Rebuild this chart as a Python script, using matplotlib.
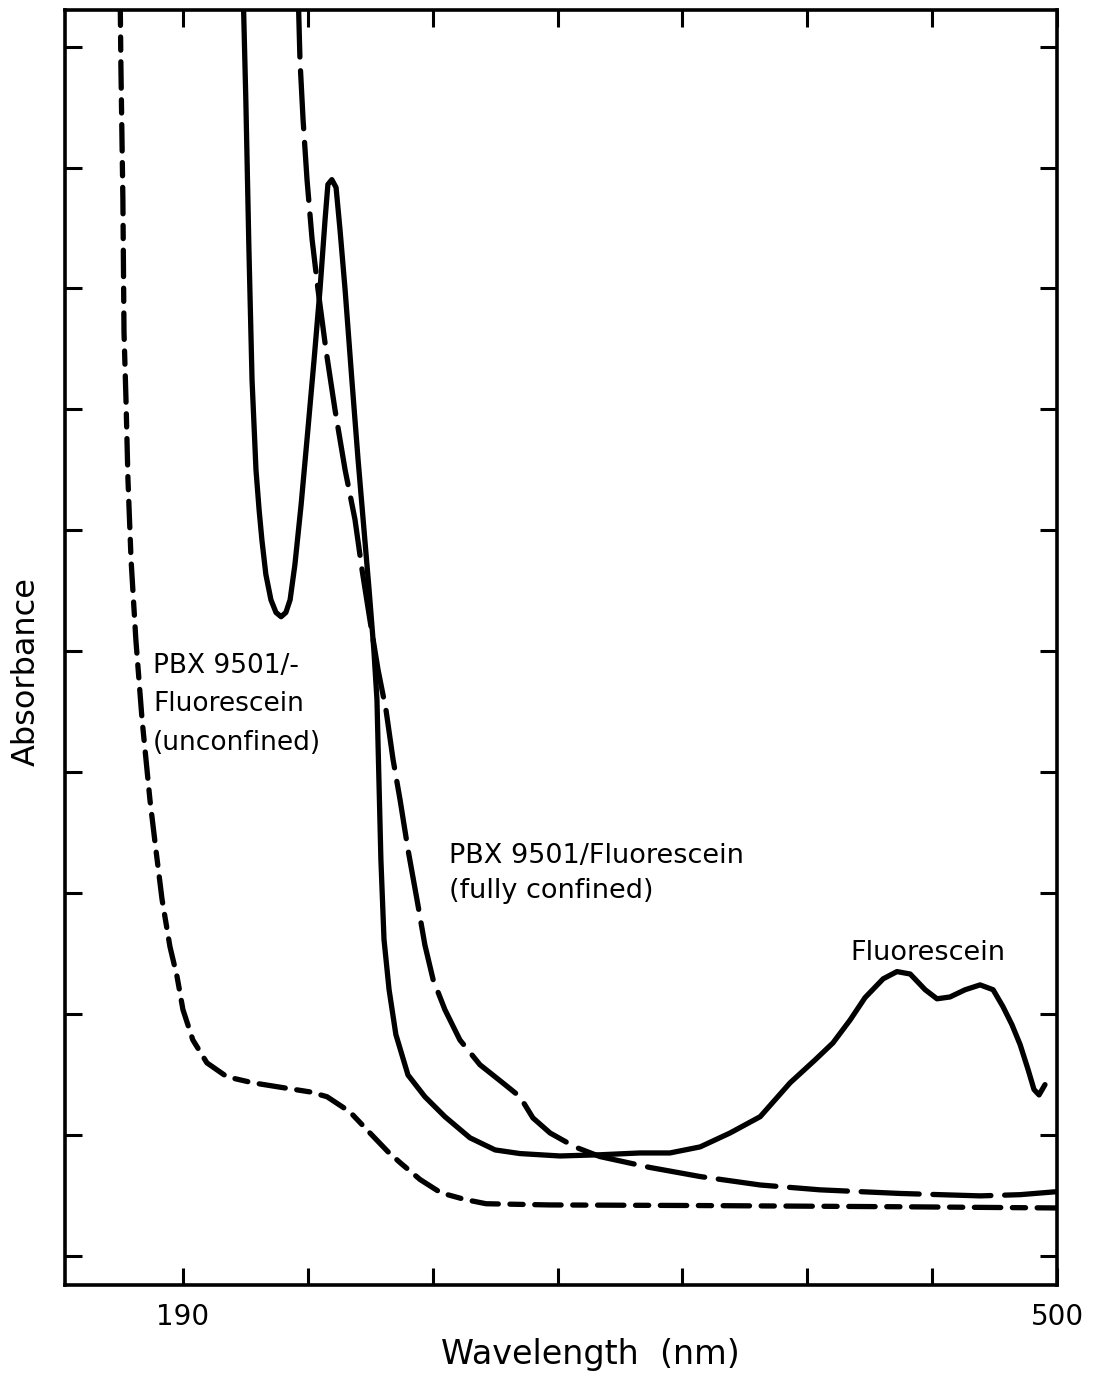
import numpy as np
import matplotlib
matplotlib.use("Agg")
import matplotlib.pyplot as plt

# PBX 9501/Fluorescein (unconfined) - short dashes
unconf_nm = [167.7, 168.0, 168.7, 169.1, 169.8, 170.5, 171.6, 173.3, 175.5, 178.3,
             180.4, 182.6, 185.4, 187.9, 190.0, 193.5, 198.5, 205.6, 214.8, 225.5,
             235.0, 241.1, 249.2, 255.3, 262.7, 267.0, 274.1, 281.5, 290.0, 297.5,
             320.2, 373.4, 444.3, 500.0]
unconf_abs = [2.10, 1.967, 1.747, 1.527, 1.416, 1.284, 1.151, 1.019, 0.887, 0.754,
              0.672, 0.589, 0.511, 0.462, 0.407, 0.357, 0.319, 0.296, 0.286, 0.278,
              0.271, 0.263, 0.238, 0.208, 0.172, 0.154, 0.126, 0.104, 0.093, 0.086,
              0.084, 0.083, 0.081, 0.079]

# PBX 9501/Fluorescein (fully confined) - long dashes
conf_nm = [230.8, 231.5, 232.6, 234.0, 235.8, 237.9, 240.7, 243.9, 247.5, 251.0,
           253.5, 256.3, 259.2, 262.0, 264.5, 267.0, 269.8, 273.0, 275.8, 278.7,
           282.9, 288.2, 295.3, 304.2, 309.5, 314.1, 320.2, 329.0, 337.9, 355.6,
           373.4, 394.7, 415.9, 444.3, 472.7, 486.9, 500.0]
conf_abs = [2.10, 1.978, 1.879, 1.780, 1.681, 1.598, 1.499, 1.400, 1.300, 1.218,
            1.135, 1.052, 0.969, 0.903, 0.821, 0.754, 0.672, 0.589, 0.514, 0.457,
            0.407, 0.357, 0.316, 0.283, 0.263, 0.228, 0.203, 0.180, 0.164, 0.146,
            0.131, 0.117, 0.109, 0.103, 0.099, 0.101, 0.106]

# Fluorescein - solid
fl_nm = [211.3, 212.3, 213.4, 214.5, 215.9, 217.0, 218.0, 219.4, 221.2, 223.0,
         224.8, 226.5, 228.0, 229.7, 231.9, 234.3, 236.5, 238.6, 240.4, 241.4,
         242.8, 244.3, 245.7, 247.5, 249.9, 252.1, 254.2, 256.0, 257.7, 258.8,
         259.5, 260.2, 261.3, 263.1, 265.5, 269.8, 275.8, 282.9, 291.8, 300.7,
         309.5, 323.7, 337.9, 352.1, 362.7, 373.4, 384.0, 394.7, 405.3, 414.2,
         420.5, 426.6, 431.9, 438.3, 443.2, 447.9, 453.2, 457.4, 462.0, 467.4,
         472.7, 477.3, 480.8, 484.0, 486.9, 489.7, 491.8, 493.6, 495.7]
fl_abs = [2.10, 1.912, 1.664, 1.449, 1.300, 1.234, 1.184, 1.127, 1.085, 1.064,
          1.057, 1.064, 1.085, 1.143, 1.242, 1.366, 1.482, 1.598, 1.714, 1.772,
          1.780, 1.767, 1.697, 1.598, 1.449, 1.317, 1.201, 1.102, 1.002, 0.920,
          0.787, 0.655, 0.523, 0.440, 0.366, 0.299, 0.263, 0.230, 0.195, 0.175,
          0.169, 0.165, 0.167, 0.170, 0.170, 0.180, 0.203, 0.230, 0.286, 0.324,
          0.352, 0.390, 0.427, 0.458, 0.470, 0.466, 0.440, 0.425, 0.428, 0.440,
          0.448, 0.440, 0.412, 0.382, 0.349, 0.308, 0.275, 0.266, 0.283]

x_ticks = list(np.linspace(190, 500, 8))
x_ticklabels = ['190', '', '', '', '', '', '', '500']
y_ticks = list(np.arange(0, 2.01, 0.2))

plt.rcParams['font.family'] = ['DejaVu Sans']

fig = plt.figure(figsize=(11.03, 13.77), dpi=100)
ax = fig.add_axes([0.059, 0.067, 0.8994, 0.9259])

lw = 3.8
l1, = ax.plot(unconf_nm, unconf_abs, color='black', lw=lw,
              dash_capstyle='round', solid_joinstyle='round')
l1.set_dashes([5, 2.2, 2.5, 2.2])
l2, = ax.plot(conf_nm, conf_abs, color='black', lw=lw, dash_capstyle='round',
              solid_joinstyle='round')
l2.set_dashes([11, 2.6])
ax.plot(fl_nm, fl_abs, color='black', lw=lw, solid_capstyle='round',
        solid_joinstyle='round')

ax.set_xlim(148.2, 500)
ax.set_ylim(-0.048, 2.061)
ax.set_xticks(x_ticks)
ax.set_xticklabels(x_ticklabels, fontsize=20)
ax.set_yticks(y_ticks)
ax.set_yticklabels([])
ax.tick_params(direction='in', length=12, width=2.2, top=True, right=True, pad=13)
for s in ax.spines.values():
    s.set_linewidth(2.6)

ax.set_xlabel('Wavelength  (nm)', fontsize=24)
ax.xaxis.set_label_coords(0.530, -0.042)
ax.set_ylabel('Absorbance', fontsize=23)
ax.yaxis.set_label_coords(-0.024, 0.481)

ax.text(179.4, 0.997, 'PBX 9501/-\nFluorescein\n(unconfined)', fontsize=19,
        va='top', ha='left', linespacing=1.62)
ax.text(284.3, 0.683, 'PBX 9501/Fluorescein\n(fully confined)', fontsize=19.5,
        va='top', ha='left', linespacing=1.45)
ax.text(426.6, 0.50, 'Fluorescein', fontsize=19.5, va='center', ha='left')

fig.savefig('out.png', dpi=100)
